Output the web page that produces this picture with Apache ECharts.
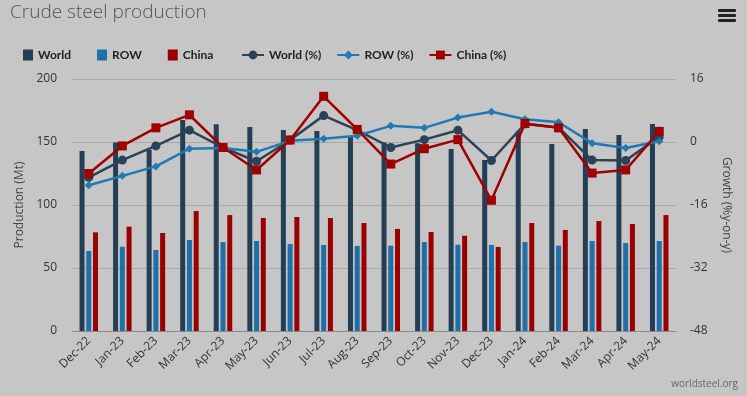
<!DOCTYPE html>
<html><head><meta charset="utf-8">
<script src="https://cdn.jsdelivr.net/npm/echarts@6/dist/echarts.min.js"></script>
<style>html,body{margin:0;padding:0;background:#c6c6c6;}#c{width:747px;height:396px;}</style>
</head><body><div id="c"></div>
<script>
const categories = ['Dec-22','Jan-23','Feb-23','Mar-23','Apr-23','May-23','Jun-23','Jul-23','Aug-23','Sep-23','Oct-23','Nov-23','Dec-23','Jan-24','Feb-24','Mar-24','Apr-24','May-24'];
const worldMt = [142.9,149.7,143.7,167.5,164.0,161.9,159.5,158.7,154.2,149.7,149.0,144.4,135.7,158.5,148.4,160.3,155.6,164.3];
const rowMt   = [63.5,66.9,64.3,72.2,70.6,71.4,69.0,68.3,67.5,67.7,70.6,68.5,68.3,70.6,67.7,71.4,69.8,71.4];
const chinaMt = [78.3,82.8,77.8,95.2,92.0,89.7,90.5,89.7,85.7,81.0,78.6,75.6,66.7,85.7,80.2,87.3,84.9,92.0];
const worldPct = [-9.0,-4.6,-1.0,3.0,-1.4,-4.9,0.5,6.7,3.0,-1.4,0.6,3.0,-4.7,4.6,3.7,-4.6,-4.7,1.3];
const rowPct   = [-11.0,-8.6,-6.2,-1.7,-1.5,-2.5,0.3,0.8,1.6,4.1,3.6,6.2,7.7,5.8,5.0,-0.3,-1.5,0.2];
const chinaPct = [-8.0,-1.0,3.6,6.9,-1.4,-7.1,0.5,11.6,3.2,-5.6,-1.7,0.6,-14.8,4.7,3.6,-7.9,-7.1,2.7];
const leftTicks = {min:0, max:200, interval:50};
const rightTicks = {min:-48, max:16, interval:16};

const cWorld = '#243f55', cRow = '#1f6fa8', cChina = '#990000';
const cWorldL = '#2b4257', cRowL = '#1f7ab4', cChinaL = '#a00000';
const font = '"Open Sans", "DejaVu Sans", sans-serif';
const legFont = 'Lato, "Open Sans", sans-serif';

const chart = echarts.init(document.getElementById('c'), null, {renderer:'canvas'});
chart.setOption({
  backgroundColor: '#c6c6c6',
  animation: false,
  title: {
    text: 'Crude steel production', left: 5, top: -2,
    textStyle: {fontFamily: font, fontWeight: 300, fontSize: 19, color: '#4a575f'}
  },
  legend: [
    {data: ['World','ROW','China'], left: 18, top: 44, itemWidth: 10, itemHeight: 11, itemGap: 26,
     icon: 'rect', textStyle: {fontFamily: legFont, fontWeight: 'bold', fontSize: 12, color: '#222'}},
    {data: ['World (%)','ROW (%)','China (%)'], left: 236, top: 44, itemWidth: 22, itemHeight: 11, itemGap: 15,
     textStyle: {fontFamily: legFont, fontWeight: 'bold', fontSize: 12, color: '#222'}}
  ],
  grid: {left: 72, right: 71, top: 79, bottom: 65},
  xAxis: {
    type: 'category', data: categories,
    axisLine: {show: true, lineStyle: {color: '#8a8a8a'}},
    axisTick: {show: false},
    axisLabel: {rotate: 45, fontFamily: font, fontSize: 12, color: '#333', margin: 8, interval: 0}
  },
  yAxis: [
    {type: 'value', min: leftTicks.min, max: leftTicks.max, interval: leftTicks.interval,
     name: 'Production (Mt)', nameLocation: 'middle', nameGap: 46,
     nameTextStyle: {fontFamily: font, fontSize: 12, color: '#444'},
     axisLine: {show: false}, axisTick: {show: false},
     axisLabel: {fontFamily: font, fontSize: 12, color: '#333', margin: 15},
     splitLine: {lineStyle: {color: '#a9a9a9', width: 1}}},
    {type: 'value', min: rightTicks.min, max: rightTicks.max, interval: rightTicks.interval,
     name: 'Growth (%y-on-y)', nameLocation: 'middle', nameGap: 44, nameRotate: -90,
     nameTextStyle: {fontFamily: font, fontSize: 12, color: '#444'},
     axisLine: {show: false}, axisTick: {show: false},
     axisLabel: {fontFamily: font, fontSize: 12, color: '#333', margin: 14},
     splitLine: {show: false}}
  ],
  series: [
    {name: 'World', type: 'bar', data: worldMt, barWidth: 5, barGap: '35%', itemStyle: {color: cWorld}},
    {name: 'ROW', type: 'bar', data: rowMt, barWidth: 5, barGap: '35%', itemStyle: {color: cRow}},
    {name: 'China', type: 'bar', data: chinaMt, barWidth: 5, barGap: '35%', itemStyle: {color: cChina}},
    {name: 'World (%)', type: 'line', yAxisIndex: 1, data: worldPct, symbol: 'circle', symbolSize: 9,
     lineStyle: {color: cWorldL, width: 2.5}, itemStyle: {color: cWorldL}},
    {name: 'ROW (%)', type: 'line', yAxisIndex: 1, data: rowPct, symbol: 'diamond', symbolSize: 8,
     lineStyle: {color: cRowL, width: 2.5}, itemStyle: {color: cRowL}},
    {name: 'China (%)', type: 'line', yAxisIndex: 1, data: chinaPct, symbol: 'rect', symbolSize: 9,
     lineStyle: {color: cChinaL, width: 2.5}, itemStyle: {color: cChinaL}}
  ],
  graphic: [
    {type: 'rect', shape: {x: 718, y: 9, width: 18, height: 3, r: 1}, style: {fill: '#222'}},
    {type: 'rect', shape: {x: 718, y: 14, width: 18, height: 3, r: 1}, style: {fill: '#222'}},
    {type: 'rect', shape: {x: 718, y: 19, width: 18, height: 3, r: 1}, style: {fill: '#222'}},
    {type: 'text', right: 9, top: 379, style: {text: 'worldsteel.org', font: '10px ' + font, fill: '#666'}}
  ]
});
</script></body></html>
